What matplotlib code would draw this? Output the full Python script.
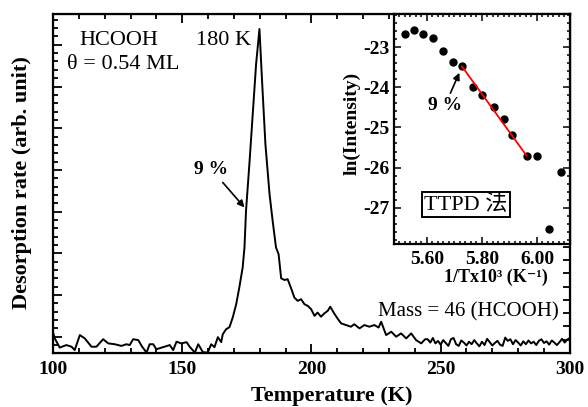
import matplotlib
matplotlib.use('Agg')
import matplotlib.pyplot as plt
from matplotlib.ticker import MultipleLocator, NullFormatter, FormatStrFormatter

plt.rcParams['font.family'] = ['Liberation Serif', 'Noto Sans CJK SC', 'DejaVu Serif']
plt.rcParams['axes.unicode_minus'] = False

# main TPD trace, mass 46
temp = [100.0, 100.7, 102.6, 105.2, 107.2, 108.4, 110.4, 112.3, 114.9, 116.8, 119.4,
        121.4, 123.9, 126.5, 128.4, 129.7, 131.0, 133.0, 134.5, 136.2, 137.4,
        138.8, 140.0, 142.6, 145.2, 146.5, 147.8, 149.7, 151.7, 152.9, 154.9,
        156.2, 158.0, 159.9, 161.2, 162.5, 163.8, 165.1, 165.7, 167.0, 168.3,
        169.6, 170.9, 172.1, 173.4, 174.1, 174.7, 176.0, 177.3, 178.6, 179.9,
        180.9, 182.2, 183.8, 185.0, 186.3, 187.3, 188.3, 189.6, 190.8, 192.1,
        193.4, 194.7, 196.0, 197.3, 198.6, 199.9, 201.2, 202.4, 203.7, 205.0,
        206.3, 207.3, 208.9, 210.2, 211.5, 213.4, 215.3, 216.6, 218.6, 220.5,
        222.4, 224.4, 226.0, 227.0, 228.9, 230.9, 232.8, 234.7, 236.7, 238.6,
        240.5, 242.5, 244.0,
        245, 246, 247, 248, 249, 250, 251, 252, 253, 254, 255, 256, 257, 258,
        259, 260, 261, 262, 263, 264, 265, 266, 267, 268, 269, 270, 271, 272,
        273, 274, 275, 276, 277, 278, 279, 280, 281, 282, 283, 284, 285, 286,
        287, 288, 289, 290, 291, 292, 293, 294, 295, 296, 297, 298, 299, 300]
rate = [0.10, -0.04, -0.26, -0.20, -0.24, -0.32, 0.04, -0.04, -0.24, -0.24, -0.06,
        -0.16, -0.18, -0.22, -0.18, -0.20, -0.06, -0.08, -0.24, -0.38, -0.18,
        -0.18, -0.30, -0.25, -0.20, -0.32, -0.12, -0.16, -0.13, -0.24, -0.38,
        -0.18, -0.37, -0.38, -0.18, -0.25, -0.01, -0.13, 0.06, 0.18, 0.23,
        0.47, 0.78, 1.18, 1.66, 2.14, 3.02, 4.14, 5.34, 6.54, 7.38,
        6.14, 4.62, 3.42, 2.78, 2.14, 1.98, 1.40, 1.36, 1.38, 1.17,
        0.94, 0.86, 0.90, 0.78, 0.74, 0.66, 0.50, 0.58, 0.48, 0.56,
        0.62, 0.72, 0.55, 0.43, 0.32, 0.28, 0.24, 0.30, 0.20, 0.28,
        0.24, 0.28, 0.22, 0.36, 0.04, 0.12, 0.00, 0.08, -0.04, 0.08,
        -0.08, -0.16, -0.06,
        -0.06, -0.14, -0.03, -0.16, -0.10, -0.19, -0.08, -0.15, -0.22, -0.06,
        -0.03, -0.18, -0.22, -0.09, -0.14, -0.21, -0.12, -0.18, -0.08, -0.16,
        -0.23, -0.12, -0.20, -0.05, -0.13, -0.21, -0.15, -0.10, -0.19, -0.22,
        -0.02, -0.10, -0.06, -0.18, -0.08, -0.14, -0.21, -0.11, -0.18, -0.09,
        -0.16, -0.12, -0.20, -0.10, -0.06, -0.15, -0.11, -0.19, -0.09, -0.14,
        -0.20, -0.13, -0.05, -0.14, -0.07, -0.03]

# inset: ln(intensity) vs 1/T
inv_t = [5.520, 5.554, 5.584, 5.623, 5.659, 5.693, 5.727, 5.766, 5.800, 5.844,
         5.879, 5.908, 5.962, 6.001, 6.045, 6.086]
ln_i = [-22.68, -22.58, -22.68, -22.78, -23.09, -23.38, -23.48, -24.00, -24.19,
        -24.48, -24.79, -25.20, -25.70, -25.70, -27.52, -26.11]
fit_x = [5.727, 5.962]
fit_y = [-23.48, -25.70]

fig = plt.figure(figsize=(5.88, 4.07), dpi=100)
ax = fig.add_axes([0.0901, 0.1327, 0.879, 0.833])
ax.plot(temp, rate, color='black', lw=1.4)
ax.set_xlim(100, 300)
ax.set_ylim(-0.39, 7.74)

ax.xaxis.set_major_locator(MultipleLocator(50))
ax.xaxis.set_minor_locator(MultipleLocator(10))
ax.yaxis.set_major_locator(MultipleLocator(1))
ax.yaxis.set_minor_locator(MultipleLocator(0.2))
ax.yaxis.set_major_formatter(NullFormatter())
ax.tick_params(which='both', direction='in', top=True, right=False, width=1.3)
ax.tick_params(which='major', length=6.5)
ax.tick_params(which='minor', length=3.5)
ax.tick_params(axis='x', which='major', labelsize=14, pad=6)
for lab in ax.get_xticklabels():
    lab.set_fontweight('bold')
for sp in ax.spines.values():
    sp.set_linewidth(1.6)

# right side ticks below inset
axr = ax.twinx()
axr.set_ylim(0, 25.5)
axr.yaxis.set_major_locator(MultipleLocator(1))
axr.yaxis.set_major_formatter(NullFormatter())
axr.tick_params(direction='in', length=5, width=1.3)

ax.set_xlabel('Temperature (K)', fontsize=16, fontweight='bold')
ax.xaxis.set_label_coords(0.54, -0.128)
ax.xaxis.label.set_va('center')
ax.set_ylabel('Desorption rate (arb. unit)', fontsize=16, fontweight='bold')
ax.yaxis.set_label_coords(-0.06, 0.504)
ax.yaxis.label.set_va('center')

ax.text(110.3, 7.11, 'HCOOH', fontsize=16, ha='left', va='center')
ax.text(155.5, 7.11, '180 K', fontsize=16, ha='left', va='center')
ax.text(105.6, 6.52, 'θ = 0.54 ML', fontsize=16, ha='left', va='center')
ax.text(295.6, 0.59, 'Mass = 46 (HCOOH)', fontsize=15, ha='right', va='center')
ax.annotate('9 %', xy=(174.1, 3.10), xytext=(161.2, 4.02), fontsize=14,
            fontweight='bold', ha='center', va='center',
            arrowprops=dict(arrowstyle='-|>', color='black', lw=1.2,
                            mutation_scale=10, shrinkA=2, shrinkB=0))

# inset
axi = fig.add_axes([0.670, 0.4005, 0.2993, 0.565])
axi.plot(inv_t, ln_i, 'o', color='black', ms=5)
axi.plot(fit_x, fit_y, color='red', lw=1.3)
axi.set_xlim(5.48, 6.12)
axi.set_ylim(-27.9, -22.18)
axi.xaxis.set_major_locator(MultipleLocator(0.2))
axi.xaxis.set_minor_locator(MultipleLocator(0.02))
axi.xaxis.set_major_formatter(FormatStrFormatter('%.2f'))
axi.yaxis.set_major_locator(MultipleLocator(1))
axi.yaxis.set_minor_locator(MultipleLocator(0.2))
axi.tick_params(which='both', direction='in', top=True, right=True, width=1.1)
axi.tick_params(which='major', length=5, labelsize=14)
axi.tick_params(axis='x', which='major', pad=5)
axi.tick_params(axis='y', which='major', pad=3)
axi.tick_params(which='minor', length=2.5)
for lab in axi.get_xticklabels() + axi.get_yticklabels():
    lab.set_fontweight('bold')
for sp in axi.spines.values():
    sp.set_linewidth(1.6)

axi.set_xlabel('1/Tx10³ (K⁻¹)', fontsize=13, fontweight='bold',
               family=['Liberation Serif', 'DejaVu Serif'])
axi.xaxis.set_label_coords(0.58, -0.145)
axi.xaxis.label.set_va('center')
axi.set_ylabel('ln(Intensity)', fontsize=14, fontweight='bold')
axi.yaxis.set_label_coords(-0.24, 0.526)
axi.yaxis.label.set_va('center')

axi.annotate('9 %', xy=(5.72, -23.61), xytext=(5.665, -24.46), fontsize=14,
             fontweight='bold', ha='center', va='center',
             arrowprops=dict(arrowstyle='-|>', color='black', lw=1.2,
                             mutation_scale=10, shrinkA=1, shrinkB=1))
axi.text(5.742, -26.92, 'TTPD 法', fontsize=16, ha='center', va='center',
         bbox=dict(boxstyle='square,pad=0.12', facecolor='white',
                   edgecolor='black', lw=1.4))

fig.savefig('out.png', dpi=100)
